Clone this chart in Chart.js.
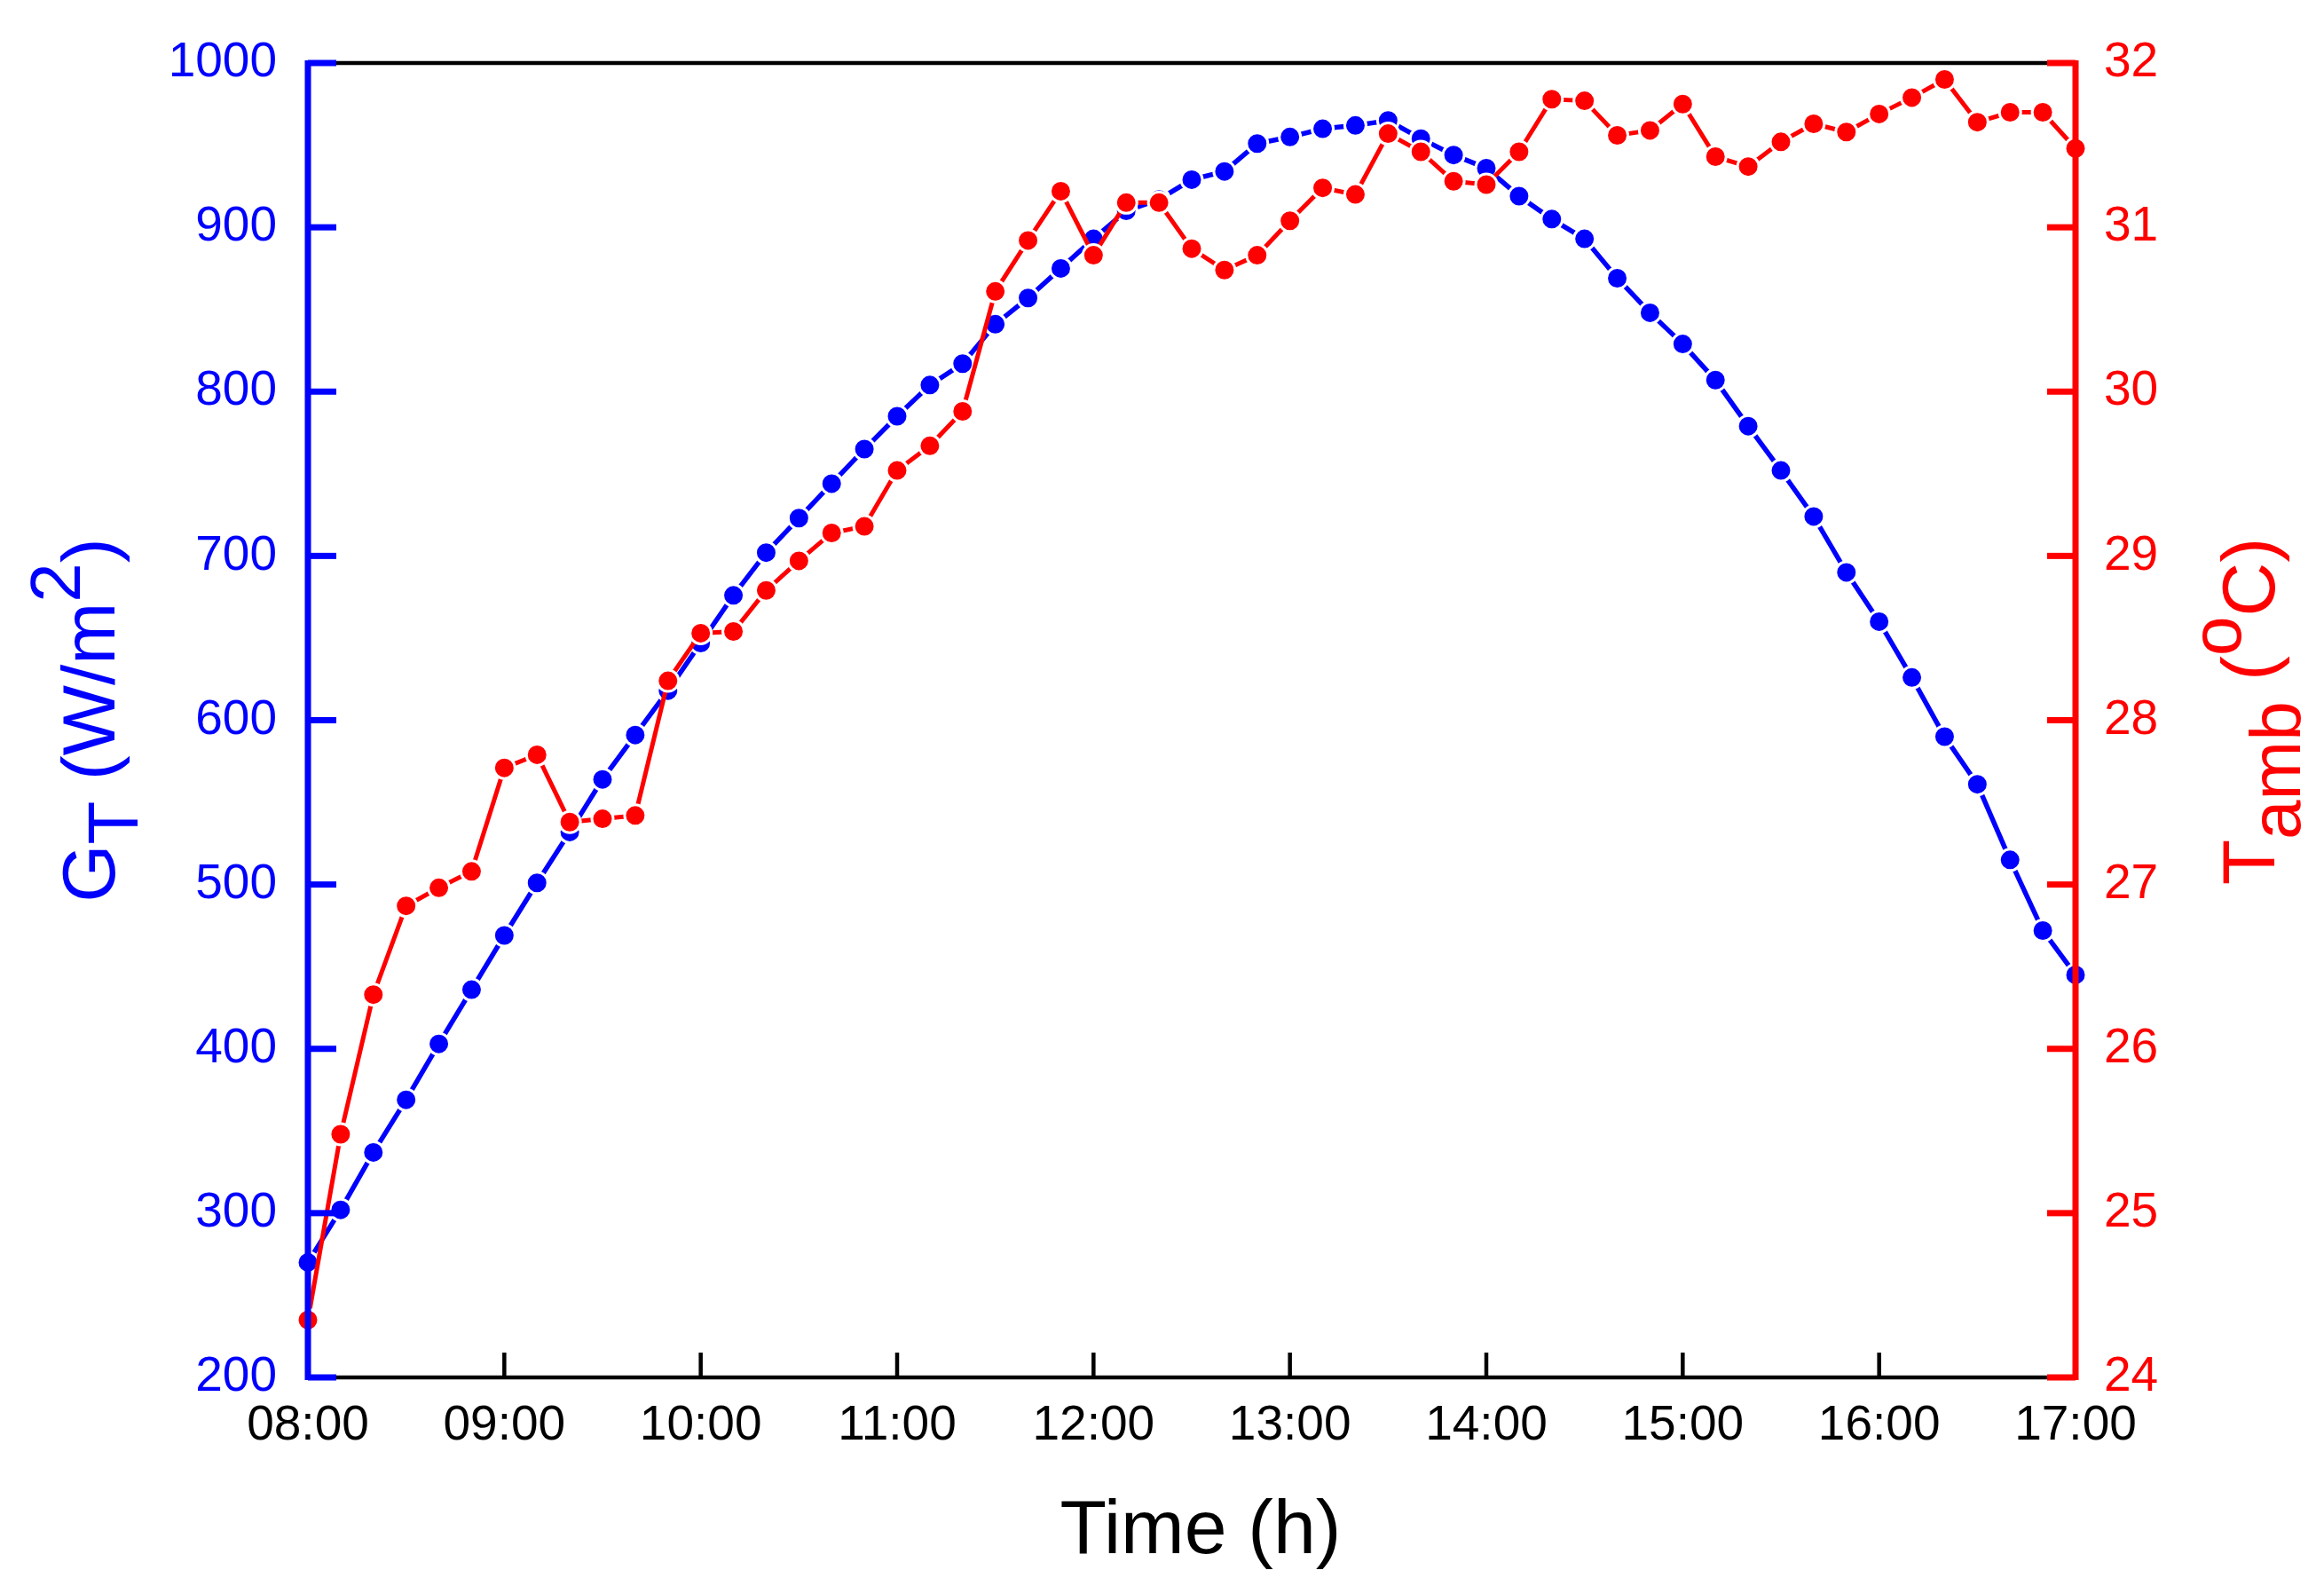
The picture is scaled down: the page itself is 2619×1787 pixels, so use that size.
<!DOCTYPE html>
<html>
<head>
<meta charset="utf-8">
<script src="https://cdn.jsdelivr.net/npm/chart.js@4.4.1/dist/chart.umd.min.js"></script>
<style>
  body { margin: 0; background: #fff; }
  #wrap { width: 2619px; height: 1787px; }
</style>
</head>
<body>
<div id="wrap"><canvas id="chart" width="2619" height="1787"></canvas></div>
<script>
// time of day, one reading every 10 minutes
var times = [
    "08:00", "08:10", "08:20", "08:30", "08:40", "08:50",
    "09:00", "09:10", "09:20", "09:30", "09:40", "09:50",
    "10:00", "10:10", "10:20", "10:30", "10:40", "10:50",
    "11:00", "11:10", "11:20", "11:30", "11:40", "11:50",
    "12:00", "12:10", "12:20", "12:30", "12:40", "12:50",
    "13:00", "13:10", "13:20", "13:30", "13:40", "13:50",
    "14:00", "14:10", "14:20", "14:30", "14:40", "14:50",
    "15:00", "15:10", "15:20", "15:30", "15:40", "15:50",
    "16:00", "16:10", "16:20", "16:30", "16:40", "16:50",
    "17:00"
];

// G_T, solar irradiance (W/m2)
var irradiance = [
    270, 302, 337, 369, 403, 436, 469, 501, 532, 564, 591, 618,
    647, 676, 702, 723, 744, 765, 785, 804, 817, 841, 857, 875,
    893, 910, 917, 929, 934, 951, 955, 960, 962, 965, 954, 944,
    936, 919, 905, 893, 869, 848, 829, 807, 779, 752, 724, 690,
    660, 626, 590, 561, 515, 472, 445
];

// T_amb, ambient temperature (oC)
var ambientTemp = [
    24.35, 25.48, 26.33, 26.87, 26.98, 27.08, 27.71, 27.79, 27.38, 27.40, 27.42, 28.24,
    28.53, 28.54, 28.79, 28.97, 29.14, 29.18, 29.52, 29.67, 29.88, 30.61, 30.92, 31.22,
    30.83, 31.15, 31.15, 30.87, 30.74, 30.83, 31.04, 31.24, 31.20, 31.57, 31.46, 31.28,
    31.26, 31.46, 31.78, 31.77, 31.56, 31.59, 31.75, 31.43, 31.37, 31.52, 31.63, 31.58,
    31.69, 31.79, 31.90, 31.64, 31.70, 31.70, 31.48
];

var leftTicks = [200, 300, 400, 500, 600, 700, 800, 900, 1000];
var rightTicks = [24, 25, 26, 27, 28, 29, 30, 31, 32];

var BLUE = '#0000ff';
var RED = '#ff0000';
var FONT = "'Liberation Sans', Arial, sans-serif";

function isHour(t) {
    return t.slice(3) === '00';
}

// draws a run of text pieces (with sub/superscript shifts) centred on cx
function drawParts(ctx, parts, cx, baseY, color) {
    var total = 0;
    parts.forEach(function (p) {
        ctx.font = p.size + 'px ' + FONT;
        p.w = ctx.measureText(p.text).width;
        total += p.w;
    });
    var x = cx - total / 2;
    ctx.fillStyle = color;
    ctx.textAlign = 'left';
    ctx.textBaseline = 'alphabetic';
    parts.forEach(function (p) {
        ctx.font = p.size + 'px ' + FONT;
        ctx.fillText(p.text, x, baseY + p.shift);
        x += p.w;
    });
}

var framePlugin = {
    id: 'frame',
    afterDatasetsDraw: function (chart) {
        var ctx = chart.ctx, a = chart.chartArea;
        var xs = chart.scales.x, yL = chart.scales.yL, yR = chart.scales.yR;

        function seg(x1, y1, x2, y2) {
            ctx.beginPath();
            ctx.moveTo(x1, y1);
            ctx.lineTo(x2, y2);
            ctx.stroke();
        }

        ctx.save();
        ctx.lineCap = 'butt';

        // bottom ticks and the black top / bottom lines
        ctx.strokeStyle = '#000';
        ctx.lineWidth = 4.5;
        times.forEach(function (t, i) {
            if (!isHour(t)) return;
            var px = xs.getPixelForValue(i);
            seg(px, a.bottom, px, a.bottom - 28);
        });
        seg(a.left, a.top, a.right, a.top);
        seg(a.left, a.bottom, a.right, a.bottom);

        // left axis, blue
        ctx.strokeStyle = BLUE;
        ctx.lineWidth = 7;
        leftTicks.forEach(function (v) {
            var py = yL.getPixelForValue(v);
            seg(a.left, py, a.left + 32, py);
        });
        seg(a.left, a.top - 3, a.left, a.bottom + 3);

        // right axis, red
        ctx.strokeStyle = RED;
        rightTicks.forEach(function (v) {
            var py = yR.getPixelForValue(v);
            seg(a.right, py, a.right - 32, py);
        });
        seg(a.right, a.top - 3, a.right, a.bottom + 3);

        ctx.restore();
    },
    afterDraw: function (chart) {
        var ctx = chart.ctx, a = chart.chartArea;
        var midY = (a.top + a.bottom) / 2;

        ctx.save();
        // x title
        drawParts(ctx, [{ text: 'Time (h)', size: 86, shift: 0 }],
            (a.left + a.right) / 2 + 10, a.bottom + 198, '#000');

        // left title G_T (W/m^2)
        ctx.save();
        ctx.translate(a.left - 218, midY);
        ctx.rotate(-Math.PI / 2);
        drawParts(ctx, [
            { text: 'G', size: 84, shift: 0 },
            { text: 'T', size: 80, shift: 26 },
            { text: ' (W/m', size: 84, shift: 0 },
            { text: '2', size: 80, shift: -39 },
            { text: ')', size: 84, shift: 0 }
        ], 0, 0, BLUE);
        ctx.restore();

        // right title T_amb (oC)
        ctx.save();
        ctx.translate(a.right + 224, midY - 10);
        ctx.rotate(-Math.PI / 2);
        drawParts(ctx, [
            { text: 'T', size: 84, shift: 0 },
            { text: 'amb', size: 80, shift: 29 },
            { text: ' (', size: 84, shift: 0 },
            { text: 'o', size: 80, shift: -38 },
            { text: 'C)', size: 84, shift: 0 }
        ], 0, 0, RED);
        ctx.restore();

        ctx.restore();
    }
};

var chart = new Chart(document.getElementById('chart'), {
    type: 'line',
    data: {
        labels: times,
        datasets: [{
            label: 'GT',
            data: irradiance,
            yAxisID: 'yL',
            order: 2,
            borderColor: BLUE,
            borderWidth: 5.5,
            pointRadius: 12,
            pointBorderWidth: 3,
            pointBorderColor: '#fff',
            pointBackgroundColor: BLUE,
            tension: 0
        }, {
            label: 'Tamb',
            data: ambientTemp,
            yAxisID: 'yR',
            order: 1,
            borderColor: RED,
            borderWidth: 5,
            pointRadius: 12,
            pointBorderWidth: 3,
            pointBorderColor: '#fff',
            pointBackgroundColor: RED,
            tension: 0
        }]
    },
    options: {
        responsive: false,
        animation: false,
        devicePixelRatio: 1,
        layout: { padding: { top: 71, left: 0, right: 0, bottom: 0 } },
        plugins: {
            legend: { display: false },
            tooltip: { enabled: false }
        },
        scales: {
            x: {
                type: 'category',
                grid: { display: false, drawTicks: false },
                border: { display: false },
                ticks: {
                    autoSkip: false,
                    maxRotation: 0,
                    padding: 22,
                    color: '#000',
                    font: { family: FONT, size: 55 },
                    callback: function (v, i) {
                        return isHour(times[i]) ? times[i] : null;
                    }
                },
                afterFit: function (s) { s.height = 235; }
            },
            yL: {
                position: 'left',
                min: leftTicks[0],
                max: leftTicks[leftTicks.length - 1],
                grid: { display: false, drawTicks: false },
                border: { display: false },
                ticks: {
                    stepSize: leftTicks[1] - leftTicks[0],
                    padding: 35,
                    color: BLUE,
                    font: { family: FONT, size: 55 },
                    callback: function (v) { return String(v); }
                },
                afterFit: function (s) { s.width = 347; }
            },
            yR: {
                position: 'right',
                min: rightTicks[0],
                max: rightTicks[rightTicks.length - 1],
                grid: { display: false, drawTicks: false },
                border: { display: false },
                ticks: {
                    stepSize: rightTicks[1] - rightTicks[0],
                    padding: 32,
                    color: RED,
                    font: { family: FONT, size: 55 },
                    callback: function (v) { return String(v); }
                },
                afterFit: function (s) { s.width = 280; }
            }
        }
    },
    plugins: [framePlugin]
});
</script>
</body>
</html>
